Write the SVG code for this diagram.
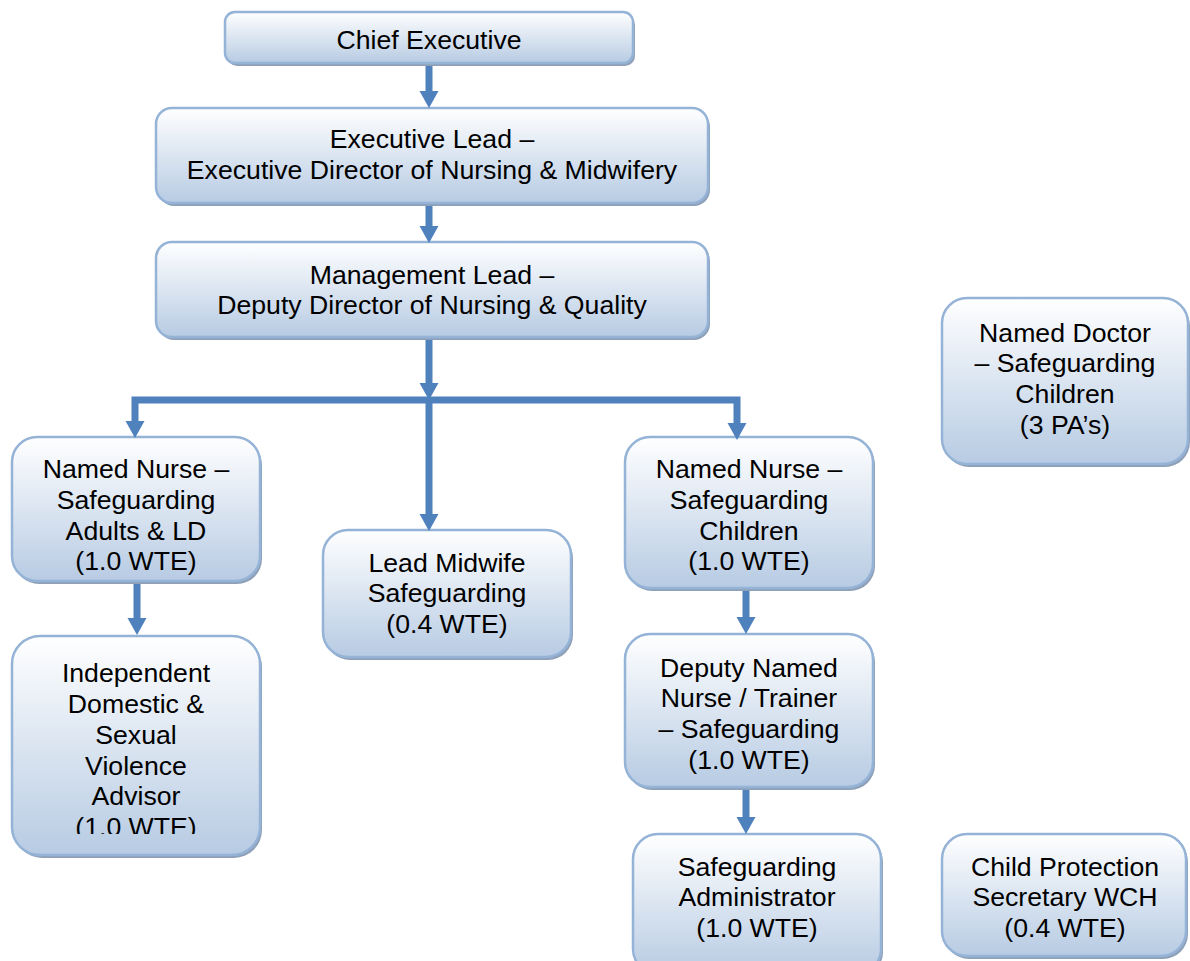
<svg xmlns="http://www.w3.org/2000/svg" width="1190" height="961" viewBox="0 0 1190 961">
<defs>
<linearGradient id="g" x1="0" y1="0" x2="0" y2="1">
<stop offset="0" stop-color="#ffffff"/>
<stop offset="1" stop-color="#b7cbe3"/>
</linearGradient>
<marker id="ah" markerUnits="userSpaceOnUse" markerWidth="20" markerHeight="20" viewBox="0 0 20 20" refX="0" refY="10" orient="auto">
<path d="M0,0.5 L17,10 L0,19.5 z" fill="#4f81bd"/>
</marker>
<clipPath id="clipI"><rect x="0" y="600" width="300" height="234"/></clipPath>
<style>
.sh{fill:#8fa1b8}
.bx{fill:url(#g);stroke:#95b3d7;stroke-width:2.5}
.t{font-family:"Liberation Sans",Arial,sans-serif;font-size:26.67px;fill:#000;text-anchor:middle}
.c{fill:none;stroke:#4f81bd;stroke-width:7;stroke-linejoin:miter;marker-end:url(#ah)}
.cn{fill:none;stroke:#4f81bd;stroke-width:7}
</style>
</defs>
<rect width="1190" height="961" fill="#ffffff"/>

<g id="n-chief">
<rect class="sh" x="227" y="15" width="408" height="51" rx="10"/>
<rect class="bx" x="225" y="12" width="408" height="51" rx="10"/>
<text class="t" x="429" y="49">Chief Executive</text>
</g>

<g id="n-execlead">
<rect class="sh" x="158" y="111" width="552" height="95" rx="16"/>
<rect class="bx" x="156" y="108" width="552" height="95" rx="16"/>
<text class="t" x="432" y="148">Executive Lead –</text>
<text class="t" x="432" y="178.7">Executive Director of Nursing &amp; Midwifery</text>
</g>

<g id="n-mgmt">
<rect class="sh" x="158" y="245" width="552" height="95" rx="16"/>
<rect class="bx" x="156" y="242" width="552" height="95" rx="16"/>
<text class="t" x="432" y="283.5">Management Lead –</text>
<text class="t" x="432" y="314">Deputy Director of Nursing &amp; Quality</text>
</g>

<g id="n-doctor">
<rect class="sh" x="944" y="301" width="246" height="166" rx="25"/>
<rect class="bx" x="942" y="298" width="246" height="166" rx="25"/>
<text class="t" x="1065" y="341.5">Named Doctor</text>
<text class="t" x="1065" y="372">– Safeguarding</text>
<text class="t" x="1065" y="403">Children</text>
<text class="t" x="1065" y="433.5">(3 PA’s)</text>
</g>

<g id="n-nurse-adults">
<rect class="sh" x="14" y="440" width="248" height="144" rx="25"/>
<rect class="bx" x="12" y="437" width="248" height="144" rx="25"/>
<text class="t" x="136" y="478">Named Nurse –</text>
<text class="t" x="136" y="509">Safeguarding</text>
<text class="t" x="136" y="539.5">Adults &amp; LD</text>
<text class="t" x="136" y="570">(1.0 WTE)</text>
</g>

<g id="n-idsva">
<rect class="sh" x="14" y="639" width="248" height="219" rx="28"/>
<rect class="bx" x="12" y="636" width="248" height="219" rx="28"/>
<g clip-path="url(#clipI)">
<text class="t" x="136" y="682">Independent</text>
<text class="t" x="136" y="713">Domestic &amp;</text>
<text class="t" x="136" y="743.5">Sexual</text>
<text class="t" x="136" y="774.5">Violence</text>
<text class="t" x="136" y="805">Advisor</text>
<text class="t" x="136" y="836">(1.0 WTE)</text>
</g>
</g>

<g id="n-midwife">
<rect class="sh" x="325" y="533" width="248" height="127" rx="25"/>
<rect class="bx" x="323" y="530" width="248" height="127" rx="25"/>
<text class="t" x="447" y="571.5">Lead Midwife</text>
<text class="t" x="447" y="602">Safeguarding</text>
<text class="t" x="447" y="633">(0.4 WTE)</text>
</g>

<g id="n-nurse-children">
<rect class="sh" x="627" y="440" width="248" height="151" rx="25"/>
<rect class="bx" x="625" y="437" width="248" height="151" rx="25"/>
<text class="t" x="749" y="478">Named Nurse –</text>
<text class="t" x="749" y="509">Safeguarding</text>
<text class="t" x="749" y="539.5">Children</text>
<text class="t" x="749" y="570">(1.0 WTE)</text>
</g>

<g id="n-deputy">
<rect class="sh" x="627" y="637" width="248" height="153" rx="25"/>
<rect class="bx" x="625" y="634" width="248" height="153" rx="25"/>
<text class="t" x="749" y="676.5">Deputy Named</text>
<text class="t" x="749" y="707">Nurse / Trainer</text>
<text class="t" x="749" y="738">– Safeguarding</text>
<text class="t" x="749" y="768.5">(1.0 WTE)</text>
</g>

<g id="n-admin">
<rect class="sh" x="635" y="837" width="248" height="140" rx="25"/>
<rect class="bx" x="633" y="834" width="248" height="140" rx="25"/>
<text class="t" x="757" y="875.5">Safeguarding</text>
<text class="t" x="757" y="906">Administrator</text>
<text class="t" x="757" y="937">(1.0 WTE)</text>
</g>

<g id="n-cpsec">
<rect class="sh" x="944" y="837" width="244" height="122" rx="25"/>
<rect class="bx" x="942" y="834" width="244" height="122" rx="25"/>
<text class="t" x="1065" y="875.5">Child Protection</text>
<text class="t" x="1065" y="906">Secretary WCH</text>
<text class="t" x="1065" y="937">(0.4 WTE)</text>
</g>

<g id="connectors">
<path class="c" d="M429,66 V91"/>
<path class="c" d="M429,206 V226"/>
<path class="c" d="M429,340 V383"/>
<path class="c" d="M429,400 H135 V421"/>
<path class="c" d="M429,400 H737 V423"/>
<path class="c" d="M429,400 V514"/>
<path class="c" d="M137,584 V618"/>
<path class="c" d="M746,591 V617"/>
<path class="c" d="M746,790 V817"/>
</g>
</svg>
